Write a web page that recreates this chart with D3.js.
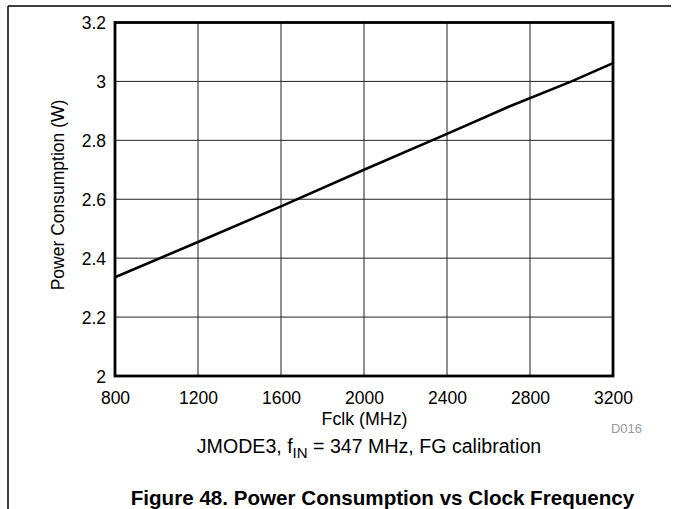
<!DOCTYPE html>
<html>
<head>
<meta charset="utf-8">
<script src="https://cdn.jsdelivr.net/npm/d3@7"></script>
<style>
  html, body { margin: 0; padding: 0; background: #fff; }
  svg { display: block; }
  text { font-family: "Liberation Sans", Arial, sans-serif; fill: #000; }
</style>
</head>
<body>
<svg id="chart" width="676" height="509"></svg>
<script>
// Data
const fclk = [800, 1200, 1600, 2000, 2400, 2700, 3000, 3200];
const power = [2.335, 2.455, 2.576, 2.700, 2.822, 2.915, 3.000, 3.062];
const xTicks = [800, 1200, 1600, 2000, 2400, 2800, 3200];
const yTicks = [2, 2.2, 2.4, 2.6, 2.8, 3, 3.2];

const svg = d3.select("#chart");
const W = 676, H = 509;
const plot = { left: 115, right: 613, top: 22.5, bottom: 376 };

// outer frame (top + left lines)
svg.append("line").attr("x1", 8).attr("x2", 671).attr("y1", 6).attr("y2", 6)
  .attr("stroke", "#000").attr("stroke-width", 1.5);
svg.append("line").attr("x1", 8).attr("x2", 8).attr("y1", 6).attr("y2", H)
  .attr("stroke", "#000").attr("stroke-width", 1.5);

const x = d3.scaleLinear().domain([800, 3200]).range([plot.left, plot.right]);
const y = d3.scaleLinear().domain([2, 3.2]).range([plot.bottom, plot.top]);

// grid
const g = svg.append("g");
g.selectAll(".vg").data(xTicks.slice(1, -1)).enter().append("line")
  .attr("x1", d => x(d)).attr("x2", d => x(d))
  .attr("y1", plot.top).attr("y2", plot.bottom)
  .attr("stroke", "#222").attr("stroke-width", 1);
g.selectAll(".hg").data(yTicks.slice(1, -1)).enter().append("line")
  .attr("x1", plot.left).attr("x2", plot.right)
  .attr("y1", d => y(d)).attr("y2", d => y(d))
  .attr("stroke", "#222").attr("stroke-width", 1);

// axes (labels only, via d3 axes)
const xAxis = d3.axisBottom(x).tickValues(xTicks).tickSize(0).tickPadding(0).tickFormat(d3.format("d"));
const yAxis = d3.axisLeft(y).tickValues(yTicks).tickSize(0).tickPadding(0).tickFormat(d => d3.format("")(d));

const gx = svg.append("g").attr("transform", `translate(0,${plot.bottom})`).call(xAxis);
gx.select(".domain").remove();
gx.selectAll("text").attr("font-size", 17.5).attr("font-family", "Liberation Sans, Arial, sans-serif")
  .attr("fill", "#000").attr("dy", null).attr("y", 28);

const gy = svg.append("g").attr("transform", `translate(106,0)`).call(yAxis);
gy.select(".domain").remove();
gy.selectAll("text").attr("font-size", 17.5).attr("font-family", "Liberation Sans, Arial, sans-serif")
  .attr("fill", "#000").attr("x", 0).attr("dy", "0.36em");

// data line
const line = d3.line().x((d, i) => x(fclk[i])).y(d => y(d));
svg.append("path").datum(power).attr("d", line)
  .attr("fill", "none").attr("stroke", "#000").attr("stroke-width", 2.6)
  .attr("stroke-linejoin", "round");

// plot border
svg.append("rect").attr("x", plot.left).attr("y", plot.top)
  .attr("width", plot.right - plot.left).attr("height", plot.bottom - plot.top)
  .attr("fill", "none").attr("stroke", "#000").attr("stroke-width", 2.8);

// axis titles
svg.append("text").attr("x", 364.5).attr("y", 425)
  .attr("text-anchor", "middle").attr("font-size", 17.8).text("Fclk (MHz)");
svg.append("text").attr("transform", `translate(64,195) rotate(-90)`)
  .attr("text-anchor", "middle").attr("font-size", 17.5).text("Power Consumption (W)");

// D016
svg.append("text").attr("x", 642).attr("y", 433).attr("text-anchor", "end")
  .attr("font-size", 13).attr("fill", "#999").style("fill", "#999").text("D016");

// subtitle
const sub = svg.append("text").attr("x", 369).attr("y", 453).attr("text-anchor", "middle")
  .attr("font-size", 19.6);
sub.append("tspan").text("JMODE3, f");
sub.append("tspan").attr("font-size", 15).attr("dy", 5).text("IN");
sub.append("tspan").attr("dy", -5).text(" = 347 MHz, FG calibration");

// figure title
svg.append("text").attr("x", 382.5).attr("y", 505).attr("text-anchor", "middle")
  .attr("font-size", 20.6).attr("font-weight", "bold")
  .text("Figure 48. Power Consumption vs Clock Frequency");
</script>
</body>
</html>
